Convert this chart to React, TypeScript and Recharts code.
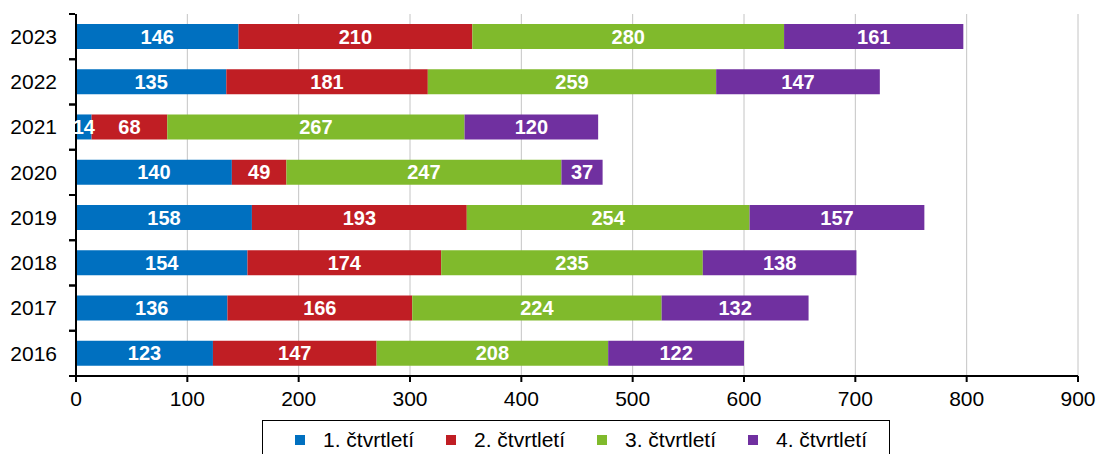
import React from "react";
import {
  BarChart,
  Bar,
  XAxis,
  YAxis,
  CartesianGrid,
  LabelList,
  Legend,
} from "recharts";

const years = ["2023", "2022", "2021", "2020", "2019", "2018", "2017", "2016"];
const q1 = [146, 135, 14, 140, 158, 154, 136, 123];
const q2 = [210, 181, 68, 49, 193, 174, 166, 147];
const q3 = [280, 259, 267, 247, 254, 235, 224, 208];
const q4 = [161, 147, 120, 37, 157, 138, 132, 122];
const seriesNames = ["1. čtvrtletí", "2. čtvrtletí", "3. čtvrtletí", "4. čtvrtletí"];
const seriesKeys = ["q1", "q2", "q3", "q4"];
const seriesColors = ["#0070C0", "#C01E24", "#80BA2C", "#7030A0"];
const xTicks = [0, 100, 200, 300, 400, 500, 600, 700, 800, 900];

const data = years.map((y, i) => ({
  year: y,
  q1: q1[i],
  q2: q2[i],
  q3: q3[i],
  q4: q4[i],
}));

const FONT = "'Liberation Sans', Arial, sans-serif";

const YTick = (props: any) => {
  const { x, y, payload } = props;
  const off = payload?.offset ?? 0;
  return (
    <g>
      <line x1={x + 1} x2={x + 7} y1={y - off} y2={y - off} stroke="#000" strokeWidth={2} />
      <line x1={x + 1} x2={x + 7} y1={y + off} y2={y + off} stroke="#000" strokeWidth={2} />
      <text
        x={x - 11}
        y={y}
        dy="0.35em"
        textAnchor="end"
        fontSize={21}
        fontFamily={FONT}
        fill="#000"
      >
        {payload.value}
      </text>
    </g>
  );
};

const LegendContent = () => (
  <div
    style={{
      boxSizing: "border-box",
      width: 628,
      height: 34,
      border: "1px solid #000",
      borderBottom: "none",
      display: "flex",
      alignItems: "center",
      paddingLeft: 32,
      paddingTop: 4,
      fontFamily: FONT,
      fontSize: 21,
      color: "#000",
      whiteSpace: "nowrap",
      background: "#fff",
    }}
  >
    {seriesNames.map((n, i) => (
      <div
        key={n}
        style={{ display: "flex", alignItems: "center", width: 151, flexShrink: 0 }}
      >
        <span
          style={{
            display: "inline-block",
            width: 10,
            height: 10,
            background: seriesColors[i],
            marginRight: 18,
            flexShrink: 0,
          }}
        />
        <span>{n}</span>
      </div>
    ))}
  </div>
);

export default function App() {
  return (
    <div style={{ position: "absolute", left: 0, top: 0, width: 1099, height: 454, background: "#fff", overflow: "hidden" }}>
      <BarChart
        width={1099}
        height={454}
        data={data}
        layout="vertical"
        margin={{ top: 14, right: 21, left: 0, bottom: 0 }}
        barCategoryGap="22%"
      >
        <CartesianGrid horizontal={false} vertical stroke="#c4c4c4" strokeWidth={1} />
        <XAxis
          type="number"
          domain={[0, 900]}
          ticks={xTicks}
          interval={0}
          height={44}
          tickSize={6}
          tickMargin={9}
          axisLine={{ stroke: "#000", strokeWidth: 2 }}
          tickLine={{ stroke: "#000", strokeWidth: 2 }}
          tick={{ fill: "#000", fontSize: 21, fontFamily: FONT }}
        />
        <XAxis
          xAxisId="top"
          orientation="top"
          type="number"
          domain={[0, 900]}
          height={0}
          tick={false}
          tickLine={false}
          axisLine={{ stroke: "#000", strokeWidth: 2 }}
        />
        <YAxis
          type="category"
          dataKey="year"
          width={76}
          axisLine={{ stroke: "#000", strokeWidth: 2 }}
          tickLine={false}
          tick={<YTick />}
          interval={0}
        />
        <YAxis
          yAxisId="right"
          orientation="right"
          type="number"
          domain={[0, 1]}
          width={0}
          tick={false}
          tickLine={false}
          axisLine={{ stroke: "#000", strokeWidth: 2 }}
        />
        <Legend
          verticalAlign="bottom"
          content={<LegendContent />}
          wrapperStyle={{ left: 262, width: 628, height: 34 }}
        />
        {seriesKeys.map((k, i) => (
          <Bar
            key={k}
            dataKey={k}
            name={seriesNames[i]}
            stackId="a"
            fill={seriesColors[i]}
            isAnimationActive={false}
          >
            <LabelList
              dataKey={k}
              position="center"
              fill="#fff"
              fontSize={20}
              fontWeight="bold"
              fontFamily={FONT}
            />
          </Bar>
        ))}
      </BarChart>
    </div>
  );
}
